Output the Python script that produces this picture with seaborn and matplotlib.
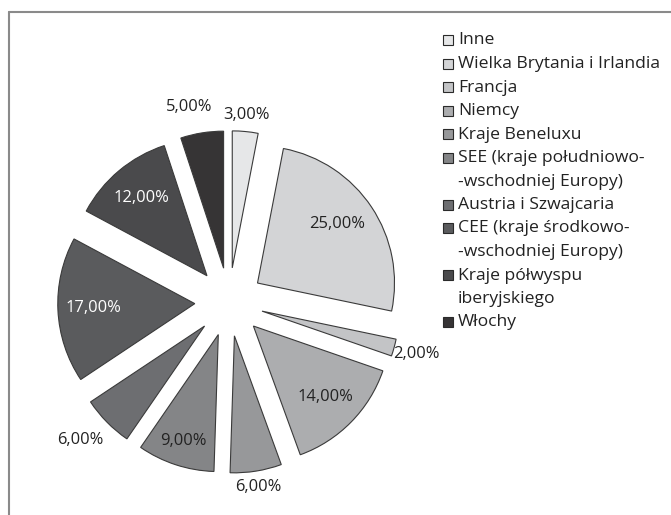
import numpy as np
import matplotlib
matplotlib.use("Agg")
import matplotlib.pyplot as plt
import seaborn as sns
from matplotlib.patches import Rectangle
from matplotlib.lines import Line2D

sns.set_theme(style="white")
plt.rcParams['font.family'] = ['Open Sans', 'DejaVu Sans']

# ---- data ----
categories = ["Inne", "Wielka Brytania i Irlandia", "Francja", "Niemcy",
              "Kraje Beneluxu", "SEE (kraje południowo-\n-wschodniej Europy)",
              "Austria i Szwajcaria", "CEE (kraje środkowo-\n-wschodniej Europy)",
              "Kraje półwyspu\niberyjskiego", "Włochy"]
values = [3, 25, 2, 14, 6, 9, 6, 17, 12, 5]
value_labels = ["3,00%", "25,00%", "2,00%", "14,00%", "6,00%",
                "9,00%", "6,00%", "17,00%", "12,00%", "5,00%"]

# ---- styles ----
colors = ["#e6e7e8", "#d3d4d6", "#c3c4c6", "#acadaf", "#97989a",
          "#848587", "#6d6e71", "#5a5b5d", "#4a4a4c", "#363435"]
text_colors = ["#222222", "#222222", "#222222", "#222222", "#222222",
               "#222222", "#222222", "white", "white", "#222222"]
label_dist = [1.12, 0.72, 1.17, 0.74, 1.12, 0.82, 1.23, 0.74, 0.74, 1.2]
label_rot = [0, 3, 0, 0, 0, 0, -2, 0, 0, 3]   # small angular nudges (deg)
explode_amt = 0.25
FS_PIE = 11.9
FS_LEG = 12.6

W, H = 671, 515
fig = plt.figure(figsize=(W / 100, H / 100), dpi=100)
fig.patch.set_facecolor("white")

cx, cy, r = 229, 302, 137
half = 1.5 * r
ax = fig.add_axes([(cx - half) / W, (H - cy - half) / H, 2 * half / W, 2 * half / H])

wedges, _ = ax.pie(values, colors=colors, startangle=90, counterclock=False,
                   explode=[explode_amt] * len(values), radius=1.0,
                   wedgeprops=dict(edgecolor="#3a3a3a", linewidth=0.8))
ax.set_xlim(-1.5, 1.5)
ax.set_ylim(-1.5, 1.5)
ax.set_aspect("equal")
ax.axis("off")

for w, lab, tc, d, dr in zip(wedges, value_labels, text_colors, label_dist, label_rot):
    th = np.deg2rad((w.theta1 + w.theta2) / 2 + dr)
    ox, oy = w.center
    ax.text(ox + d * np.cos(th), oy + d * np.sin(th), lab, ha="center", va="center",
            color=tc, fontsize=FS_PIE)

# ---- legend (drawn manually so the marker sits on the first line) ----
y0, step = 40, 23.5
line = 0
for c, cat in zip(colors, categories):
    lines = cat.split("\n")
    yc = y0 + step * line
    fig.add_artist(Rectangle((443 / W, 1 - (yc + 5) / H), 10 / W, 10 / H,
                             facecolor=c, edgecolor="#2a2a2a", linewidth=0.8,
                             transform=fig.transFigure))
    for k, txt in enumerate(lines):
        fig.text(458 / W, 1 - (yc + step * k + 0.5) / H, txt, ha="left", va="center",
                 fontsize=FS_LEG, color="#222222")
    line += len(lines)

# frame lines (top and left)
fig.add_artist(Line2D([9 / W, 1], [1 - 12 / H, 1 - 12 / H], color="#8a8a8a", lw=1.5,
                      transform=fig.transFigure))
fig.add_artist(Line2D([9 / W, 9 / W], [1 - 12 / H, 0], color="#8a8a8a", lw=1.5,
                      transform=fig.transFigure))

fig.savefig("out.png", dpi=100)
